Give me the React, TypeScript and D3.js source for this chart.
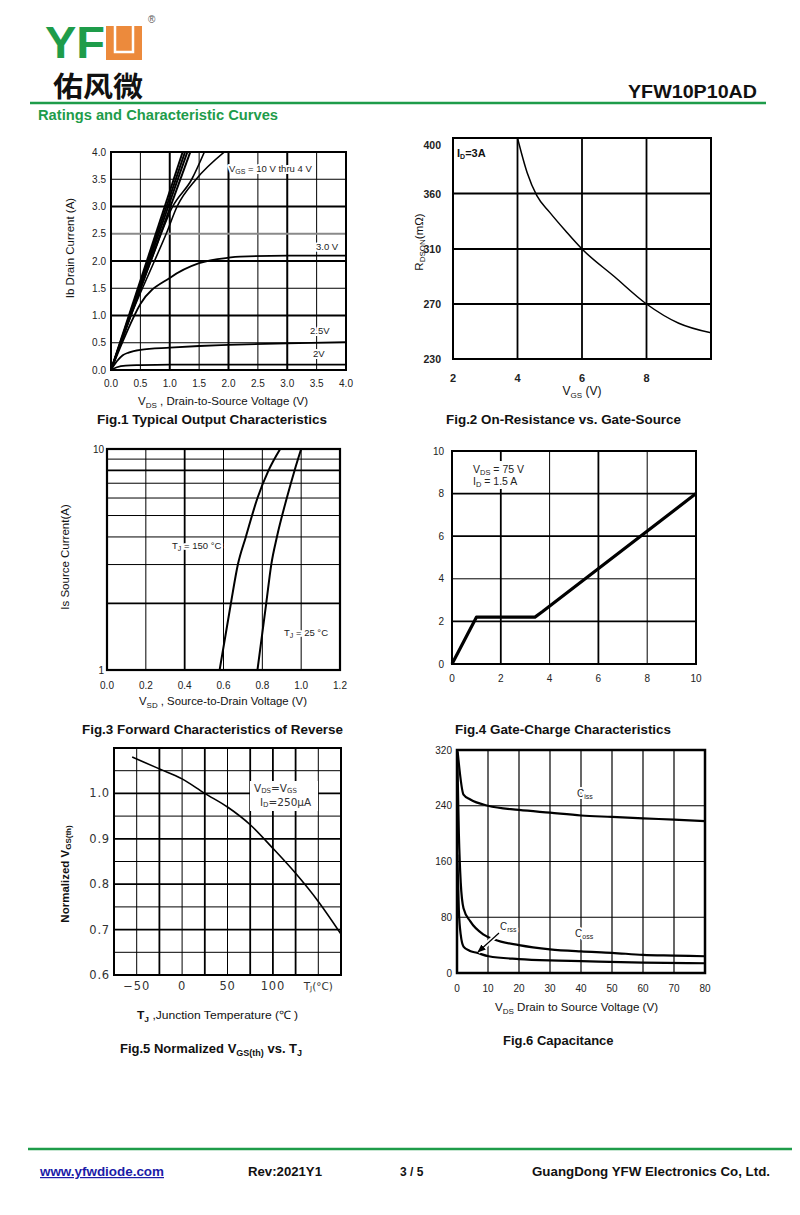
import React from "react";
import * as d3 from "d3";

type Pt = [number, number];

const SANS = "'Liberation Sans', Arial, Helvetica, sans-serif";
const GREEN = "#1e9c4a";
const ORANGE = "#ec8a3c";

// Fig.1 Typical Output Characteristics  (VDS V, ID A)
const f1Ticks = [0, 0.5, 1, 1.5, 2, 2.5, 3, 3.5, 4];
const f1Vgs10: Pt[] = [[0, 0], [1.22, 4]];
const f1Vgs8: Pt[] = [[0, 0], [1.26, 4]];
const f1Vgs6: Pt[] = [[0, 0], [1.3, 4]];
const f1Vgs5: Pt[] = [[0, 0], [1.35, 4]];
const f1Vgs45: Pt[] = [[0, 0], [0.68, 2], [1.05, 3], [1.375, 3.5], [1.59, 4]];
const f1Vgs4: Pt[] = [[0, 0], [0.34, 1], [0.74, 2], [0.94, 2.5], [1.125, 3], [1.45, 3.5], [1.93, 4]];
const f1Vgs3: Pt[] = [[0, 0], [0.25, 0.65], [0.5, 1.21], [1, 1.69], [1.5, 1.96], [2, 2.06], [2.2, 2.08], [3, 2.1], [4, 2.1]];
const f1Vgs25: Pt[] = [[0, 0], [0.1, 0.16], [0.2, 0.27], [0.3, 0.32], [0.5, 0.37], [1, 0.41], [1.5, 0.44], [2, 0.46], [3, 0.49], [4, 0.51]];
const f1Vgs2: Pt[] = [[0, 0], [0.1, 0.05], [0.25, 0.08], [0.5, 0.09], [1, 0.1], [4, 0.1]];

// Fig.2 On-Resistance vs. Gate-Source  (VGS V, RDSON mOhm)
const f2XTicks = [2, 4, 6, 8];
const f2YTicks = [230, 270, 310, 360, 400];
const f2Vgs = [4, 4.3, 4.6, 5, 5.5, 6, 7, 8, 9, 10];
const f2Rds = [400, 375, 358, 343, 326, 310, 290, 270, 256, 249];

// Fig.3 Forward characteristics  (VSD V, IS A)
const f3XTicks = [0, 0.2, 0.4, 0.6, 0.8, 1.0, 1.2];
const f3YGrid = [2, 3, 4, 5, 6, 7, 8, 9];
const f3Is = [1, 2, 3, 4, 6, 8, 10];
const f3Vsd150 = [0.58, 0.638, 0.674, 0.715, 0.775, 0.832, 0.892];
const f3Vsd25 = [0.775, 0.82, 0.846, 0.875, 0.926, 0.966, 1.0];

// Fig.4 Gate charge  (Qg nC, VGS V)
const f4Ticks = [0, 2, 4, 6, 8, 10];
const f4Qg = [0, 1, 3.4, 3.7, 10];
const f4Vgs = [0, 2.2, 2.2, 2.45, 8.0];

// Fig.5 Normalized VGS(th) vs TJ
const f5XTicks = [-50, 0, 50, 100];
const f5YTicks = [0.6, 0.7, 0.8, 0.9, 1.0];
const f5Tj = [-55, -25, 0, 25, 50, 75, 100, 125, 150, 175];
const f5Vth = [1.08, 1.054, 1.032, 1.0, 0.97, 0.931, 0.879, 0.824, 0.762, 0.69];

// Fig.6 Capacitance  (VDS V, C pF)
const f6XTicks = [0, 10, 20, 30, 40, 50, 60, 70, 80];
const f6YTicks = [0, 80, 160, 240, 320];
const f6Ciss: Pt[] = [[0.2, 318], [2.1, 256], [4.3, 249], [10, 240], [20, 234], [30, 230], [40, 226], [50, 224], [60, 222], [70, 220], [80, 218]];
const f6Coss: Pt[] = [[0.1, 310], [0.6, 200], [1.2, 130], [2.1, 93], [4.3, 74], [8.6, 55], [12, 48], [20, 40], [30, 34], [40, 31], [50, 29], [60, 26], [70, 25], [80, 24]];
const f6Crss: Pt[] = [[0.1, 170], [0.6, 90], [1.2, 55], [2.1, 38], [4, 32], [6.4, 29], [10.2, 24], [20, 20], [30, 18], [40, 17], [60, 15], [80, 14]];

const zip = (a: number[], b: number[]): Pt[] => a.map((v, i) => [v, b[i]]);

function curvePath(pts: Pt[], x: any, y: any, curve: any = d3.curveMonotoneX) {
  return d3.line<Pt>().x((d) => x(d[0])).y((d) => y(d[1])).curve(curve)(pts) || "";
}

function Grid({ x, y, xs, ys, heavyX = [], heavyY = [], grayY = [], thin = 1, heavy = 2 }: any) {
  const xr = x.range();
  const yr = y.range();
  const xa = xr[0], xb = xr[xr.length - 1];
  const ya = yr[0], yb = yr[yr.length - 1];
  return (
    <g>
      {xs.map((v: number) => (
        <line key={"gx" + v} x1={x(v)} x2={x(v)} y1={ya} y2={yb} stroke="#000" strokeWidth={heavyX.includes(v) ? heavy : thin} />
      ))}
      {ys.map((v: number) => (
        <line key={"gy" + v} x1={xa} x2={xb} y1={y(v)} y2={y(v)}
          stroke={grayY.includes(v) ? "#8a8a8a" : "#000"} strokeWidth={heavyY.includes(v) || grayY.includes(v) ? heavy : thin} />
      ))}
    </g>
  );
}

const halo = { stroke: "#fff", strokeWidth: 4, paintOrder: "stroke" as any, strokeLinejoin: "round" as any };

export default function App() {
  // Fig.1
  const x1 = d3.scaleLinear().domain([0, 4]).range([111, 346]);
  const y1 = d3.scaleLinear().domain([0, 4]).range([370, 152]);
  // Fig.2 (y axis is evenly spaced though labels are not)
  const x2 = d3.scaleLinear().domain([2, 10]).range([453, 711]);
  const y2 = d3.scaleLinear().domain(f2YTicks).range([359, 304, 249, 193.5, 138]);
  // Fig.3
  const x3 = d3.scaleLinear().domain([0, 1.2]).range([107, 340]);
  const y3 = d3.scaleLog().domain([1, 10]).range([670, 449]);
  // Fig.4
  const x4 = d3.scaleLinear().domain([0, 10]).range([452, 696]);
  const y4 = d3.scaleLinear().domain([0, 10]).range([664, 451]);
  // Fig.5
  const x5 = d3.scaleLinear().domain([-75, 175]).range([114, 341]);
  const y5 = d3.scaleLinear().domain([0.6, 1.1]).range([975, 748]);
  // Fig.6
  const x6 = d3.scaleLinear().domain([0, 80]).range([457, 705]);
  const y6 = d3.scaleLinear().domain([0, 320]).range([973, 750]);

  const tick = { fontSize: 10, fill: "#222" };

  return (
    <svg width={800} height={1215} style={{ position: "absolute", left: 0, top: 0 }} fontFamily={SANS}>
      <defs>
        <clipPath id="c1"><rect x={111} y={152} width={235} height={218} /></clipPath>
        <clipPath id="c2"><rect x={453} y={138} width={258} height={221} /></clipPath>
        <clipPath id="c3"><rect x={107} y={449} width={233} height={221} /></clipPath>
        <clipPath id="c5"><rect x={114} y={748} width={227} height={227} /></clipPath>
        <marker id="arr" viewBox="0 0 10 10" refX={9} refY={5} markerWidth={7} markerHeight={7} orient="auto">
          <path d="M0,1 L10,5 L0,9 z" fill="#000" />
        </marker>
      </defs>
      <rect width={800} height={1215} fill="#fff" />

      {/* header */}
      <text x={45} y={58} fontSize={44} fontWeight="bold" fill={GREEN} textLength={60} lengthAdjust="spacingAndGlyphs">YF</text>
      <rect x={106} y={26} width={36} height={34} fill={ORANGE} />
      <path d="M115,26 V52 H133 V26" fill="none" stroke="#fff" strokeWidth={2.5} />
      <text x={148} y={23} fontSize={10} fill="#555">®</text>
      <text x={53} y={97} fontSize={28} fontWeight="bold" fontFamily="'Noto Sans CJK SC'" fill="#111" textLength={90} lengthAdjust="spacingAndGlyphs">佑风微</text>
      <text x={757} y={98} fontSize={19} fontWeight="bold" textAnchor="end" fill="#111" textLength={129} lengthAdjust="spacingAndGlyphs">YFW10P10AD</text>
      <line x1={30} x2={766} y1={103} y2={103} stroke={GREEN} strokeWidth={2.5} />
      <text x={38} y={120} fontSize={14} fontWeight="bold" fill={GREEN} textLength={240} lengthAdjust="spacingAndGlyphs">Ratings and Characteristic Curves</text>

      {/* ---------- Fig.1 ---------- */}
      <Grid x={x1} y={y1} xs={f1Ticks.slice(1, -1)} ys={f1Ticks.slice(1, -1)} heavyX={[1, 2, 3]} heavyY={[1, 2, 3]} grayY={[2.5]} />
      <g clipPath="url(#c1)" fill="none" stroke="#000">
        {[f1Vgs10, f1Vgs8, f1Vgs6, f1Vgs5].map((d, i) => (
          <path key={i} d={curvePath(d, x1, y1, d3.curveLinear)} strokeWidth={2} />
        ))}
        <path d={curvePath(f1Vgs45, x1, y1)} strokeWidth={1.6} />
        <path d={curvePath(f1Vgs4, x1, y1)} strokeWidth={1.6} />
        <path d={curvePath(f1Vgs3, x1, y1)} strokeWidth={1.8} />
        <path d={curvePath(f1Vgs25, x1, y1)} strokeWidth={1.8} />
        <path d={curvePath(f1Vgs2, x1, y1)} strokeWidth={1.8} />
      </g>
      <rect x={111} y={152} width={235} height={218} fill="none" stroke="#000" strokeWidth={2} />
      <text x={229} y={172} fontSize={9.5} fill="#222" {...halo}>
        <tspan>V</tspan><tspan fontSize={7} dy={2}>GS</tspan><tspan dy={-2}> = 10 V thru 4 V</tspan>
      </text>
      <text x={316} y={250} fontSize={9.5} fill="#222" {...halo}>3.0 V</text>
      <text x={310} y={334} fontSize={9.5} fill="#222" {...halo}>2.5V</text>
      <text x={313} y={357} fontSize={9.5} fill="#222" {...halo}>2V</text>
      {f1Ticks.map((v) => (
        <text key={"1x" + v} x={x1(v)} y={387} textAnchor="middle" {...tick}>{v.toFixed(1)}</text>
      ))}
      {f1Ticks.map((v) => (
        <text key={"1y" + v} x={106} y={y1(v) + 3.5} textAnchor="end" {...tick}>{v.toFixed(1)}</text>
      ))}
      <text transform="translate(74,248) rotate(-90)" textAnchor="middle" fontSize={11.5} fill="#111">Ib Drain Current (A)</text>
      <text x={138} y={405} fontSize={11.5} fill="#111" textLength={170} lengthAdjust="spacingAndGlyphs">
        <tspan>V</tspan><tspan fontSize={8} dy={2.5}>DS</tspan><tspan dy={-2.5}> , Drain-to-Source Voltage (V)</tspan>
      </text>
      <text x={97} y={424} fontSize={13} fontWeight="bold" fill="#111" textLength={230} lengthAdjust="spacingAndGlyphs">Fig.1 Typical Output Characteristics</text>

      {/* ---------- Fig.2 ---------- */}
      <Grid x={x2} y={y2} xs={[4, 6, 8]} ys={[270, 310, 360]} thin={1.8} />
      <path clipPath="url(#c2)" d={curvePath(zip(f2Vgs, f2Rds), x2, y2)} fill="none" stroke="#000" strokeWidth={1.5} />
      <rect x={453} y={138} width={258} height={221} fill="none" stroke="#000" strokeWidth={2} />
      <text x={457} y={157} fontSize={11} fontWeight="bold" fill="#111">
        <tspan>I</tspan><tspan fontSize={7} dy={2}>D</tspan><tspan dy={-2}>=3A</tspan>
      </text>
      {f2YTicks.map((v) => (
        <text key={"2y" + v} x={441} y={y2(v) + (v === 400 ? 11 : 4)} textAnchor="end" fontSize={10.5} fontWeight="bold" fill="#222">{v}</text>
      ))}
      {f2XTicks.map((v) => (
        <text key={"2x" + v} x={x2(v)} y={382} textAnchor="middle" fontSize={11} fontWeight="bold" fill="#222">{v}</text>
      ))}
      <text transform="translate(423,242) rotate(-90)" textAnchor="middle" fontSize={11.5} fill="#111">
        <tspan>R</tspan><tspan fontSize={8} dy={2}>DSON</tspan><tspan dy={-2}>(mΩ)</tspan>
      </text>
      <text x={582} y={395} textAnchor="middle" fontSize={12} fill="#111">
        <tspan>V</tspan><tspan fontSize={8} dy={3}>GS</tspan><tspan dy={-3}> (V)</tspan>
      </text>
      <text x={446} y={424} fontSize={13} fontWeight="bold" fill="#111" textLength={235} lengthAdjust="spacingAndGlyphs">Fig.2 On-Resistance vs. Gate-Source</text>

      {/* ---------- Fig.3 ---------- */}
      <Grid x={x3} y={y3} xs={f3XTicks.slice(1, -1)} ys={f3YGrid} heavyX={[0.4]} heavyY={[2, 8]} thin={1} heavy={1.8} />
      <g clipPath="url(#c3)" fill="none" stroke="#000" strokeWidth={2}>
        <path d={curvePath(zip(f3Vsd150, f3Is), x3, y3)} />
        <path d={curvePath(zip(f3Vsd25, f3Is), x3, y3)} />
      </g>
      <rect x={107} y={449} width={233} height={221} fill="none" stroke="#000" strokeWidth={2.2} />
      <text x={172} y={549} fontSize={9.5} fill="#222" {...halo}>
        <tspan>T</tspan><tspan fontSize={7} dy={2}>J</tspan><tspan dy={-2}> = 150 °C</tspan>
      </text>
      <text x={284} y={636} fontSize={9.5} fill="#222" {...halo}>
        <tspan>T</tspan><tspan fontSize={7} dy={2}>J</tspan><tspan dy={-2}> = 25 °C</tspan>
      </text>
      {f3XTicks.map((v) => (
        <text key={"3x" + v} x={x3(v)} y={689} textAnchor="middle" {...tick}>{v.toFixed(1)}</text>
      ))}
      {[1, 10].map((v) => (
        <text key={"3y" + v} x={104} y={y3(v) + 3.5} textAnchor="end" {...tick}>{v}</text>
      ))}
      <text transform="translate(69,557) rotate(-90)" textAnchor="middle" fontSize={11.5} fill="#111">Is Source Current(A)</text>
      <text x={139} y={705} fontSize={11.5} fill="#111" textLength={168} lengthAdjust="spacingAndGlyphs">
        <tspan>V</tspan><tspan fontSize={8} dy={2.5}>SD</tspan><tspan dy={-2.5}> , Source-to-Drain Voltage (V)</tspan>
      </text>
      <text x={82} y={734} fontSize={13} fontWeight="bold" fill="#111" textLength={261} lengthAdjust="spacingAndGlyphs">Fig.3 Forward Characteristics of Reverse</text>

      {/* ---------- Fig.4 ---------- */}
      <Grid x={x4} y={y4} xs={[2, 4, 6, 8]} ys={[2, 4, 6, 8]} heavyX={[2, 6]} heavyY={[2, 6, 8]} thin={1} heavy={1.8} />
      <path d={curvePath(zip(f4Qg, f4Vgs), x4, y4, d3.curveLinear)} fill="none" stroke="#000" strokeWidth={3.2} strokeLinejoin="round" />
      <rect x={452} y={451} width={244} height={213} fill="none" stroke="#000" strokeWidth={2} />
      <rect x={470} y={461} width={62} height={28} fill="#fff" />
      <text x={473} y={473} fontSize={10.5} fill="#222">
        <tspan>V</tspan><tspan fontSize={7.5} dy={2}>DS</tspan><tspan dy={-2}> = 75 V</tspan>
      </text>
      <text x={473} y={485} fontSize={10.5} fill="#222">
        <tspan>I</tspan><tspan fontSize={7.5} dy={2}>D</tspan><tspan dy={-2}> = 1.5 A</tspan>
      </text>
      {f4Ticks.map((v) => (
        <text key={"4x" + v} x={x4(v)} y={682} textAnchor="middle" {...tick}>{v}</text>
      ))}
      {f4Ticks.map((v) => (
        <text key={"4y" + v} x={444} y={y4(v) + 3.5} textAnchor="end" {...tick}>{v}</text>
      ))}
      <text x={455} y={734} fontSize={13} fontWeight="bold" fill="#111" textLength={216} lengthAdjust="spacingAndGlyphs">Fig.4 Gate-Charge Characteristics</text>

      {/* ---------- Fig.5 ---------- */}
      <Grid x={x5} y={y5} xs={d3.range(-50, 175, 25)} ys={d3.range(0.65, 1.1, 0.05).map((v) => +v.toFixed(2))}
        heavyX={[-25, 25, 75, 100, 125]} heavyY={[0.7, 0.8, 0.9, 1.0]} thin={1} heavy={1.8} />
      <path clipPath="url(#c5)" d={curvePath(zip(f5Tj, f5Vth), x5, y5)} fill="none" stroke="#000" strokeWidth={1.6} />
      <rect x={114} y={748} width={227} height={227} fill="none" stroke="#000" strokeWidth={2} />
      <rect x={250} y={781} width={68} height={30} fill="#fff" />
      <text x={254} y={792} fontSize={10.5} fontFamily="'DejaVu Sans'" fill="#333">
        <tspan>V</tspan><tspan fontSize={7} dy={1}>DS</tspan><tspan dy={-1}>=V</tspan><tspan fontSize={7} dy={1}>GS</tspan>
      </text>
      <text x={260} y={806} fontSize={10.5} fontFamily="'DejaVu Sans'" fill="#333">
        <tspan>I</tspan><tspan fontSize={7} dy={1}>D</tspan><tspan dy={-1}>=250μA</tspan>
      </text>
      {f5XTicks.map((v) => (
        <text key={"5x" + v} x={x5(v)} y={990} textAnchor="middle" fontSize={11.5} fontFamily="'DejaVu Sans'" fill="#333" letterSpacing={0.8}>{v < 0 ? "−" + Math.abs(v) : v}</text>
      ))}
      <text x={x5(150)} y={990} textAnchor="middle" fontSize={10.5} fontFamily="'DejaVu Sans'" fill="#333">
        <tspan>T</tspan><tspan fontSize={7} dy={1}>J</tspan><tspan dy={-1}>(°C)</tspan>
      </text>
      {f5YTicks.map((v) => (
        <text key={"5y" + v} x={110} y={y5(v) + 4} textAnchor="end" fontSize={11.5} fontFamily="'DejaVu Sans'" fill="#333" letterSpacing={0.8}>{v.toFixed(1)}</text>
      ))}
      <text transform="translate(69,874) rotate(-90)" textAnchor="middle" fontSize={11.5} fontWeight="bold" fill="#111">
        <tspan>Normalized V</tspan><tspan fontSize={8} dy={2}>GS(th)</tspan>
      </text>
      <text x={137} y={1019} fontSize={11.5} fill="#111" textLength={161} lengthAdjust="spacingAndGlyphs">
        <tspan fontWeight="bold">T</tspan><tspan fontSize={8} dy={3} fontWeight="bold">J</tspan><tspan dy={-3}> ,Junction Temperature (℃ )</tspan>
      </text>
      <text x={120} y={1053} fontSize={13} fontWeight="bold" fill="#111">
        <tspan>Fig.5 Normalized V</tspan><tspan fontSize={9} dy={3}>GS(th)</tspan><tspan dy={-3}> vs. T</tspan><tspan fontSize={9} dy={3}>J</tspan>
      </text>

      {/* ---------- Fig.6 ---------- */}
      <Grid x={x6} y={y6} xs={f6XTicks.slice(1, -1)} ys={[80, 160, 240]} thin={1.2} />
      <g fill="none" stroke="#000" strokeWidth={2.2}>
        <path d={curvePath(f6Ciss, x6, y6)} />
        <path d={curvePath(f6Coss, x6, y6)} />
        <path d={curvePath(f6Crss, x6, y6)} />
      </g>
      <line x1={499} y1={933} x2={478} y2={952} stroke="#fff" strokeWidth={5} />
      <line x1={499} y1={933} x2={478} y2={952} stroke="#000" strokeWidth={1.2} markerEnd="url(#arr)" />
      <rect x={457} y={750} width={248} height={223} fill="none" stroke="#000" strokeWidth={2.5} />
      <text x={577} y={797} fontSize={10} fill="#222" {...halo}>
        <tspan>C</tspan><tspan fontSize={7} dy={2}>iss</tspan>
      </text>
      <text x={575} y={937} fontSize={10} fill="#222" {...halo}>
        <tspan>C</tspan><tspan fontSize={7} dy={2}>oss</tspan>
      </text>
      <text x={500} y={930} fontSize={10} fill="#222" {...halo}>
        <tspan>C</tspan><tspan fontSize={7} dy={2}>rss</tspan>
      </text>
      {f6XTicks.map((v) => (
        <text key={"6x" + v} x={x6(v)} y={992} textAnchor="middle" {...tick}>{v}</text>
      ))}
      {f6YTicks.map((v) => (
        <text key={"6y" + v} x={452} y={y6(v) + 3.5} textAnchor="end" {...tick}>{v}</text>
      ))}
      <text x={495} y={1011} fontSize={11.5} fill="#111" textLength={163} lengthAdjust="spacingAndGlyphs">
        <tspan>V</tspan><tspan fontSize={8} dy={3}>DS</tspan><tspan dy={-3}> Drain to Source Voltage (V)</tspan>
      </text>
      <text x={503} y={1045} fontSize={13} fontWeight="bold" fill="#111">Fig.6 Capacitance</text>

      {/* footer */}
      <line x1={28} x2={792} y1={1149} y2={1149} stroke={GREEN} strokeWidth={2.5} />
      <text x={40} y={1176} fontSize={12} fontWeight="bold" fill="#1b1ba8" textDecoration="underline" textLength={124} lengthAdjust="spacingAndGlyphs">www.yfwdiode.com</text>
      <text x={248} y={1176} fontSize={12} fontWeight="bold" fill="#111" textLength={74} lengthAdjust="spacingAndGlyphs">Rev:2021Y1</text>
      <text x={400} y={1176} fontSize={12} fontWeight="bold" fill="#111">3 / 5</text>
      <text x={770} y={1176} fontSize={12} fontWeight="bold" fill="#111" textAnchor="end" textLength={238} lengthAdjust="spacingAndGlyphs">GuangDong YFW Electronics Co, Ltd.</text>
    </svg>
  );
}
